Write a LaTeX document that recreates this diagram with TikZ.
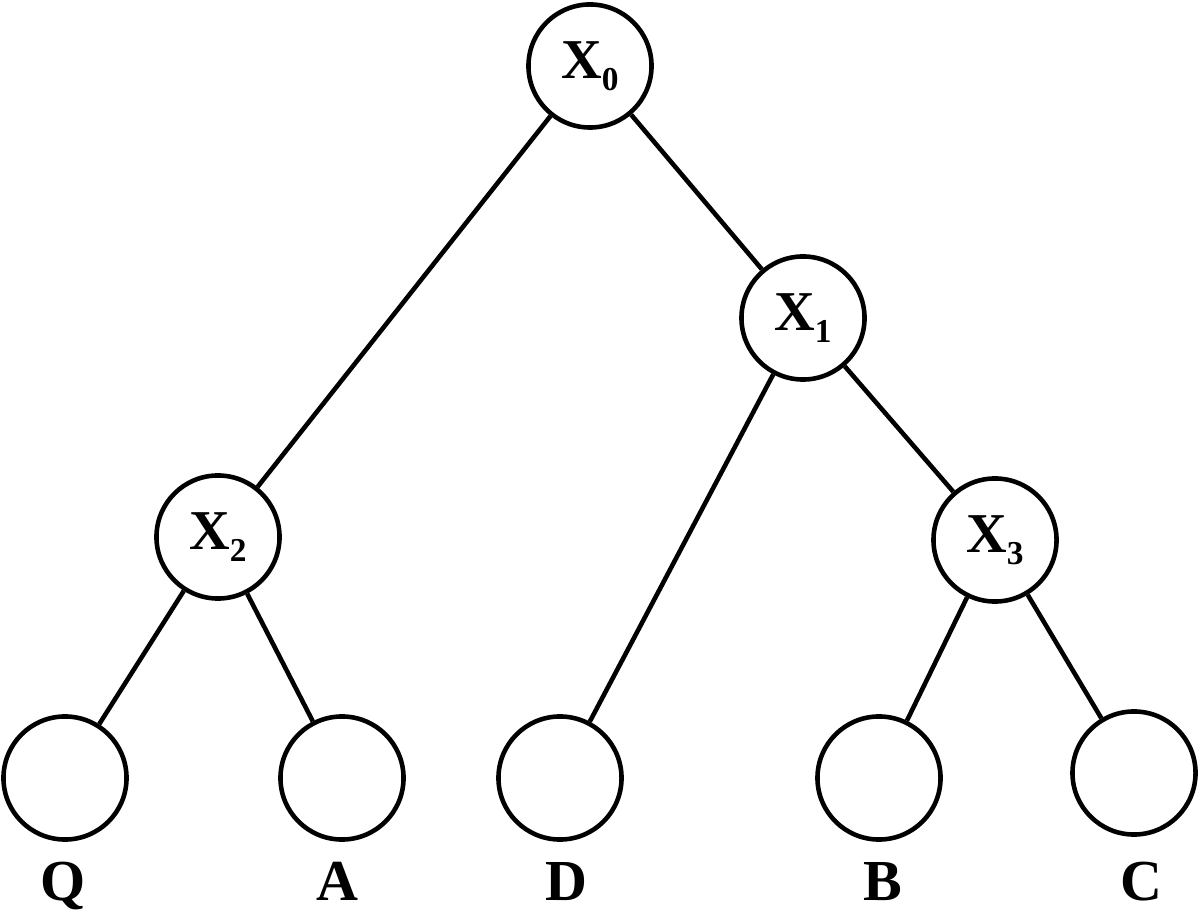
\documentclass[tikz,border=0pt]{standalone}
\usepackage{fontspec}
\setmainfont{Liberation Serif}
\usepackage{tikz}
\usetikzlibrary{positioning}
\newcommand{\xsub}[1]{\raisebox{-0.12cm}{\fontsize{9.5}{10}\selectfont #1}}

\begin{document}
\begin{tikzpicture}[x=0.01cm, y=-0.01cm,
  vertex/.style={draw, circle, line width=1.3pt, minimum size=1.23cm, inner sep=0pt,
    font=\fontsize{16}{18}\selectfont\bfseries},
  leafname/.style={anchor=base, inner sep=0pt, font=\fontsize{16.5}{18}\selectfont\bfseries},
  edge/.style={line width=1.3pt}]
  \useasboundingbox (0,0) rectangle (1200,922);
  % inner nodes
  \node[vertex] (x0) at (590,66) {X\xsub{0}};
  \node[vertex] (x1) at (803,318) {X\xsub{1}};
  \node[vertex] (x2) at (218,537) {X\xsub{2}};
  \node[vertex] (x3) at (995,540) {X\xsub{3}};
  % leaves
  \node[vertex] (q) at (65,778) {};
  \node[vertex] (a) at (342,778) {};
  \node[vertex] (d) at (560,778) {};
  \node[vertex] (b) at (879,778) {};
  \node[vertex] (c) at (1134,773) {};
  % leaf names
  \node[leafname] (qname) at (63,900) {Q};
  \node[leafname] (aname) at (337,900) {A};
  \node[leafname] (dname) at (566,900) {D};
  \node[leafname] (bname) at (883,900) {B};
  \node[leafname] (cname) at (1141,900) {C};
  % edges
  \draw[edge] (x0) -- (x2);
  \draw[edge] (x0) -- (x1);
  \draw[edge] (x1) -- (d);
  \draw[edge] (x1) -- (x3);
  \draw[edge] (x2) -- (q);
  \draw[edge] (x2) -- (a);
  \draw[edge] (x3) -- (b);
  \draw[edge] (x3) -- (c);
\end{tikzpicture}
\end{document}
